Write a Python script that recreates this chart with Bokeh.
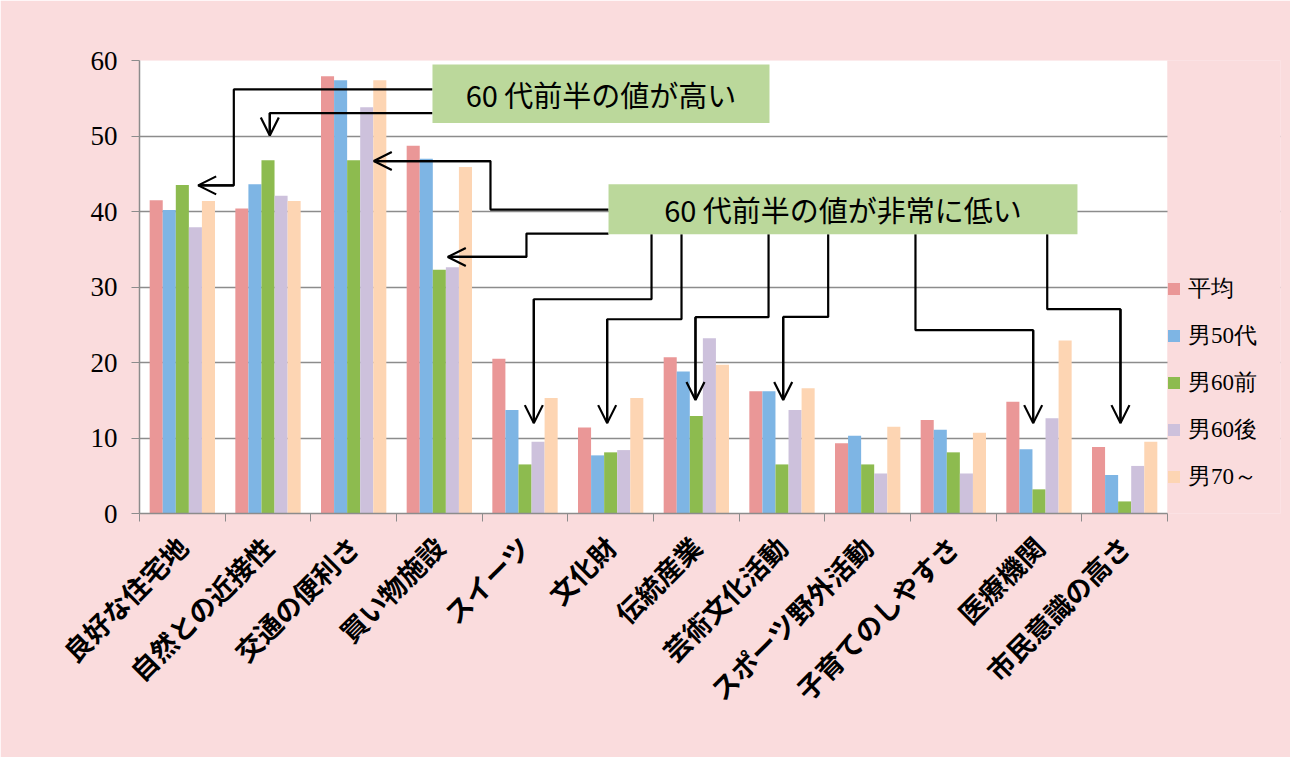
import math
from bokeh.plotting import figure
from bokeh.models import (FixedTicker, Legend, LegendItem, Arrow, OpenHead, Range1d)
from bokeh.core.properties import value
from bokeh.embed import file_html
from bokeh.resources import INLINE

# ---- data ----
categories = ["良好な住宅地", "自然との近接性", "交通の便利さ", "買い物施設", "スイーツ", "文化財",
              "伝統産業", "芸術文化活動", "スポーツ野外活動", "子育てのしやすさ", "医療機関", "市民意識の高さ"]
series_names = ["平均", "男50代", "男60前", "男60後", "男70～"]
avg  = [41.5, 40.4, 57.9, 48.7, 20.5, 11.4, 20.7, 16.2, 9.3, 12.4, 14.8, 8.8]
m50  = [40.2, 43.6, 57.4, 47.0, 13.7, 7.7, 18.8, 16.2, 10.3, 11.1, 8.5, 5.1]
m60a = [43.5, 46.8, 46.8, 32.3, 6.5, 8.1, 12.9, 6.5, 6.5, 8.1, 3.2, 1.6]
m60b = [37.9, 42.1, 53.8, 32.6, 9.5, 8.4, 23.2, 13.7, 5.3, 5.3, 12.6, 6.3]
m70  = [41.4, 41.4, 57.4, 45.9, 15.3, 15.3, 19.7, 16.6, 11.5, 10.7, 22.9, 9.5]
series_values = [avg, m50, m60a, m60b, m70]
y_ticks = [0, 10, 20, 30, 40, 50, 60]

callout_high = "60 代前半の値が高い"
callout_low = "60 代前半の値が非常に低い"

# ---- styles ----
colors = ["#EA9797", "#7EB5E4", "#8DBB4F", "#CDC1DC", "#FDD5B3"]
page_bg = "#FADCDD"
grid_gray = "#8C8C8C"
box_green = "#BBD89B"
bar_w = 0.1525
offsets = [-2 * bar_w, -bar_w, 0, bar_w, 2 * bar_w]

n = len(categories)
W, H = 1290, 757
left_b, top_b, bottom_b, right_b = 139, 60, 244, 10
plot_px = 1028.0                       # pixel width of the 12 categories
frame_px = W - left_b - right_b
x_max = n * frame_px / plot_px         # frame extends to hold the legend on the right

p = figure(width=W, height=H, x_range=Range1d(0, x_max), y_range=Range1d(0, 60),
           output_backend="svg", toolbar_location=None,
           min_border_left=left_b, min_border_right=right_b, min_border_top=top_b,
           min_border_bottom=bottom_b,
           background_fill_color=page_bg, border_fill_color=page_bg, outline_line_color=None)

# white plot area (below the grid lines)
p.quad(left=[0], right=[n], bottom=[0], top=[60], fill_color="white", line_color=None,
       level="image")

renderers = []
for j, vals in enumerate(series_values):
    xs = [i + 0.5 + offsets[j] for i in range(n)]
    r = p.vbar(x=xs, top=vals, width=bar_w, bottom=0, fill_color=colors[j], line_color=None)
    renderers.append(r)

# pink cover for the legend area on the right of the plot area (hides grid lines there)
p.quad(left=[n], right=[x_max], bottom=[0], top=[60], fill_color=page_bg, line_color=None)

# axes
p.ygrid.ticker = FixedTicker(ticks=y_ticks)
p.ygrid.grid_line_color = grid_gray
p.ygrid.grid_line_width = 1.6
p.xgrid.grid_line_color = None

ya = p.yaxis[0]
ya.ticker = FixedTicker(ticks=y_ticks)
ya.axis_line_color = grid_gray
ya.axis_line_width = 1.5
ya.major_tick_line_color = grid_gray
ya.major_tick_out = 8
ya.major_tick_in = 0
ya.minor_tick_line_color = None
ya.major_label_text_font = "Liberation Serif"
ya.major_label_text_font_size = "27px"
ya.major_label_text_color = "black"
ya.major_label_standoff = 14

label_pos = [i + 0.5 for i in range(n)]
xa = p.xaxis[0]
xa.ticker = FixedTicker(ticks=label_pos, minor_ticks=list(range(n + 1)))
xa.major_label_overrides = {pos: name for pos, name in zip(label_pos, categories)}
xa.bounds = (0, n)
xa.axis_line_color = grid_gray
xa.axis_line_width = 1.5
xa.major_tick_out = 0
xa.major_tick_in = 0
xa.minor_tick_line_color = grid_gray
xa.minor_tick_out = 8
xa.minor_tick_in = 0
xa.major_label_orientation = math.pi / 4
xa.major_label_text_font = "Noto Sans CJK JP"
xa.major_label_text_font_style = "bold"
xa.major_label_text_font_size = "27px"
xa.major_label_text_color = "black"
xa.major_label_standoff = 20

# ---- callout arrows (data units: category index, value) ----
paths = [
    ([3.42, 1.101, 1.101, 0.685], [56.17, 56.17, 43.46, 43.46]),
    ([3.42, 1.521, 1.521], [53.03, 53.03, 50.08]),
    ([5.475, 4.097, 4.097, 2.735], [40.25, 40.25, 46.68, 46.68]),
    ([5.475, 4.517, 4.517, 3.599], [37.07, 37.07, 33.98, 33.98]),
    ([5.977, 5.977, 4.603, 4.603], [36.98, 28.38, 28.38, 11.97]),
    ([6.327, 6.327, 5.459, 5.459], [36.98, 25.73, 25.73, 11.97]),
    ([7.343, 7.343, 6.490, 6.490], [36.98, 26.00, 26.00, 15.02]),
    ([8.039, 8.039, 7.514, 7.514], [36.98, 26.04, 26.04, 15.02]),
    ([9.058, 9.058, 10.432, 10.432], [36.98, 24.28, 24.28, 11.97]),
    ([10.596, 10.596, 11.451, 11.451], [36.98, 27.06, 27.06, 11.97]),
]
p.multi_line(xs=[pp[0] for pp in paths], ys=[pp[1] for pp in paths],
             line_color="black", line_width=2.2)
for xs, ys in paths:
    p.add_layout(Arrow(end=OpenHead(size=18, line_width=2.2, line_color="black"),
                       x_start=xs[-2], y_start=ys[-2], x_end=xs[-1], y_end=ys[-1],
                       line_color="black", line_width=2.2))

# ---- callout boxes ----
boxes = [(3.42, 7.354, 51.71, 59.47, callout_high), (5.475, 10.949, 36.98, 43.60, callout_low)]
p.quad(left=[b[0] for b in boxes], right=[b[1] for b in boxes],
       bottom=[b[2] for b in boxes], top=[b[3] for b in boxes],
       fill_color=box_green, line_color=None)
p.text(x=[(b[0] + b[1]) / 2 for b in boxes], y=[(b[2] + b[3]) / 2 for b in boxes],
       text=[b[4] for b in boxes], text_align="center", text_baseline="middle",
       text_font=value("Noto Sans CJK JP"), text_font_size="29px", text_color="black")

# ---- legend ----
legend = Legend(items=[LegendItem(label=nm, renderers=[r]) for nm, r in zip(series_names, renderers)],
                location=(1027, 21), orientation="vertical",
                glyph_width=15, glyph_height=15, label_height=24, spacing=16,
                label_text_font="Liberation Serif", label_text_font_size="23px",
                label_text_color="black", label_standoff=7,
                padding=0, margin=0, background_fill_alpha=0, border_line_color=None)
p.add_layout(legend, "center")

open("out.html", "w").write(file_html(p, INLINE))
